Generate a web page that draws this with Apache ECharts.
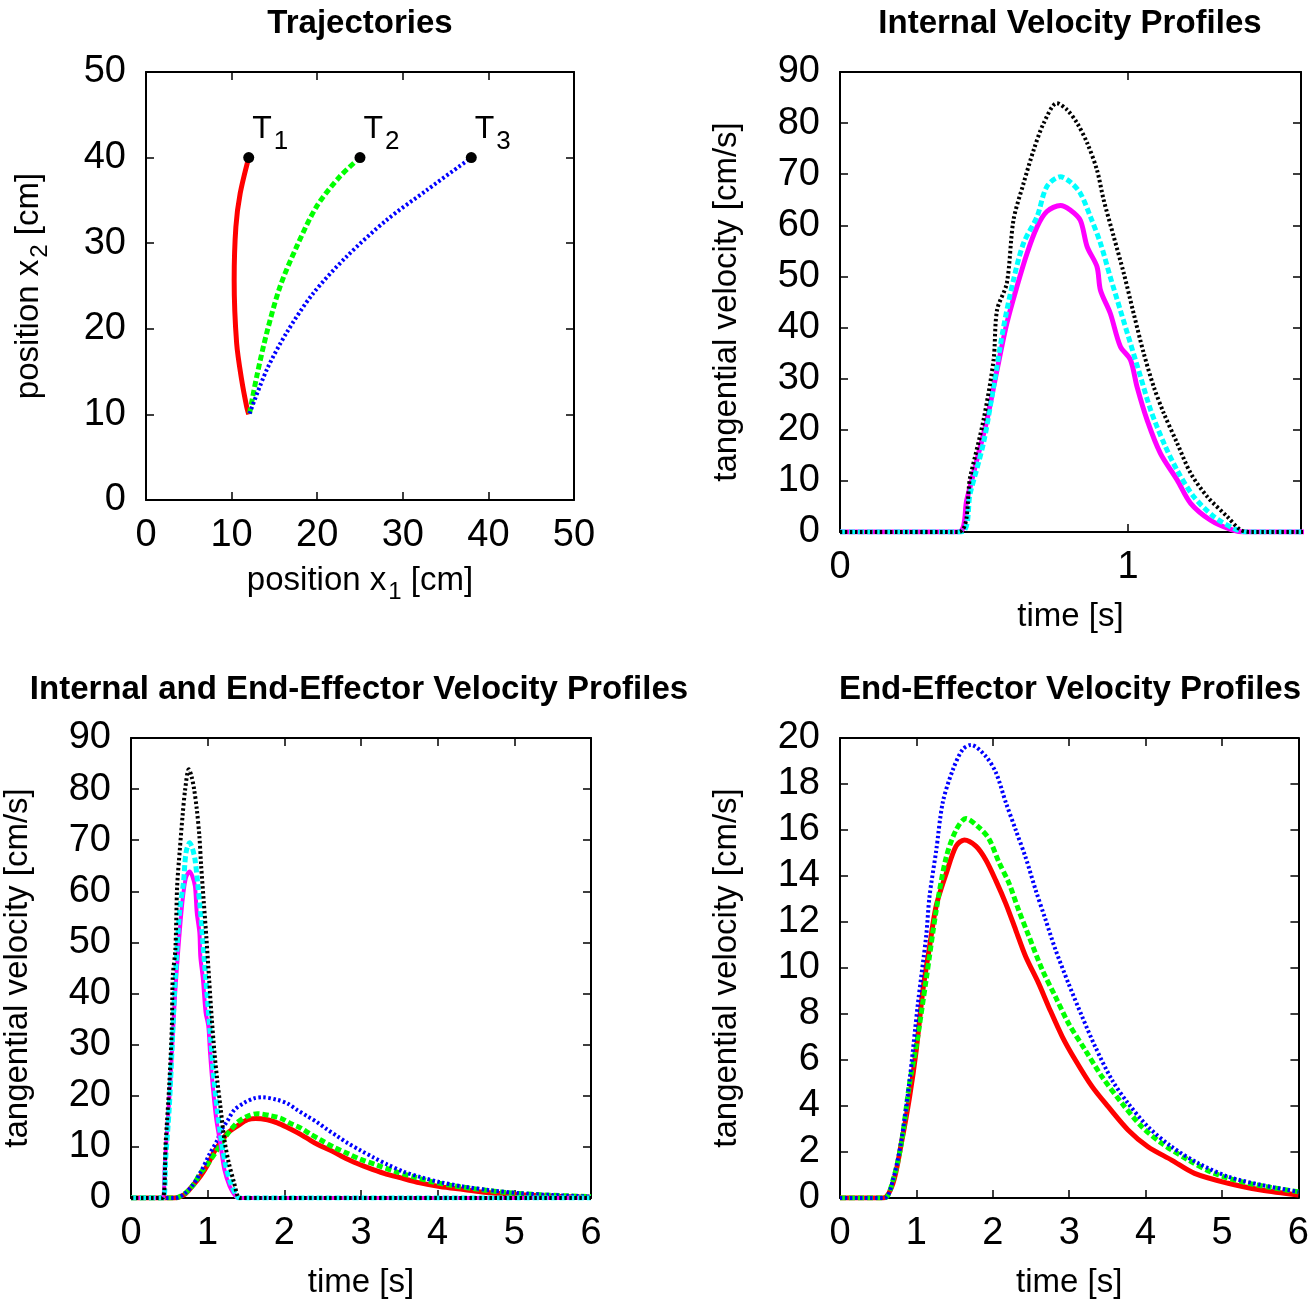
<!DOCTYPE html>
<html>
<head>
<meta charset="utf-8">
<title>Trajectories and velocity profiles</title>
<script src="https://cdn.jsdelivr.net/npm/echarts@6/dist/echarts.min.js"></script>
<style>
	html, body { margin: 0; padding: 0; background: #fff; }
	#main { width: 1312px; height: 1301px; }
</style>
</head>
<body>
<div id="main"></div>
<script>
// 轨迹 (x1, x2) [cm]
var traj1 = [[12.0, 10.0], [11.76, 10.9], [11.18, 14.0], [10.59, 18.3], [10.3, 25.7], [10.5, 31.9], [11.0, 35.8], [12.0, 40.0]];
var traj2 = [[12.1, 10.1], [12.93, 14.4], [14.1, 19.5], [15.65, 24.9], [17.6, 29.6], [19.94, 34.3], [22.66, 37.8], [25.0, 40.0]];
var traj3 = [[12.1, 10.1], [14.1, 15.2], [16.4, 19.5], [19.5, 24.1], [23.4, 28.4], [28.1, 32.7], [32.8, 36.2], [38.0, 40.0]];
var targetX = [12, 25, 38];
var targetY = [40, 40, 40];
var targetNames = ['1', '2', '3'];

// 内部速度 (time [s], velocity [cm/s])
var internal1 = [[0, 0], [0.411, 0], [0.44, 6.3], [0.475, 14.1], [0.51, 21.9], [0.545, 31.7], [0.579, 40.8], [0.614, 48.0], [0.649, 54.5], [0.684, 59.7], [0.718, 62.7], [0.765, 63.9], [0.799, 63.0], [0.834, 61.0], [0.858, 55.8], [0.892, 51.9], [0.904, 47.3], [0.938, 42.8], [0.973, 36.3], [1.008, 33.7], [1.031, 28.4], [1.066, 21.9], [1.112, 15.4], [1.17, 10.2], [1.217, 5.6], [1.286, 2.3], [1.356, 0.5], [1.40, 0], [6, 0]];
var internal2 = [[0, 0], [0.42, 0], [0.452, 7.6], [0.498, 17.4], [0.533, 28.4], [0.568, 40.2], [0.602, 49.3], [0.637, 56.5], [0.684, 61.7], [0.718, 67.6], [0.765, 69.5], [0.799, 68.5], [0.834, 66.3], [0.869, 61.7], [0.904, 56.5], [0.938, 49.9], [0.973, 43.4], [1.008, 36.9], [1.043, 30.4], [1.078, 23.9], [1.124, 17.4], [1.17, 12.1], [1.228, 6.9], [1.298, 3.0], [1.367, 0.7], [1.41, 0], [6, 0]];
var internal3 = [[0, 0], [0.411, 0], [0.452, 10.8], [0.498, 21.9], [0.533, 33.7], [0.545, 43.4], [0.579, 48.7], [0.602, 61.0], [0.637, 68.2], [0.672, 74.7], [0.707, 80.0], [0.753, 83.9], [0.788, 82.6], [0.823, 80.0], [0.858, 76.1], [0.892, 70.8], [0.915, 65.0], [0.95, 57.8], [0.985, 50.6], [1.019, 42.8], [1.054, 35.0], [1.089, 28.4], [1.124, 23.2], [1.17, 17.4], [1.217, 11.5], [1.275, 6.9], [1.344, 3.0], [1.39, 0.4], [1.42, 0], [6, 0]];

// 末端速度
var endEffector1 = [[0, 0], [0.564, 0], [0.694, 0.64], [0.803, 2.38], [0.911, 4.4], [0.998, 6.43], [1.085, 9.04], [1.171, 10.9], [1.259, 12.7], [1.389, 14.1], [1.519, 15.3], [1.627, 15.57], [1.779, 15.3], [1.909, 14.7], [2.04, 13.8], [2.17, 12.8], [2.30, 11.65], [2.43, 10.5], [2.60, 9.33], [2.73, 8.32], [2.91, 7.01], [3.08, 6.0], [3.30, 4.84], [3.51, 3.97], [3.77, 2.96], [4.03, 2.23], [4.34, 1.65], [4.64, 1.07], [5.08, 0.64], [5.51, 0.35], [6, 0.13]];
var endEffector2 = [[0, 0], [0.58, 0], [0.694, 0.78], [0.803, 2.38], [0.911, 5.0], [0.998, 6.6], [1.128, 9.5], [1.259, 12.5], [1.389, 14.8], [1.519, 16.0], [1.649, 16.5], [1.822, 16.1], [1.952, 15.6], [2.08, 14.6], [2.21, 13.7], [2.34, 12.5], [2.47, 11.4], [2.65, 9.9], [2.82, 8.75], [2.99, 7.6], [3.21, 6.43], [3.43, 5.27], [3.69, 4.12], [3.95, 3.1], [4.21, 2.38], [4.56, 1.65], [4.90, 1.07], [5.34, 0.64], [6, 0.27]];
var endEffector3 = [[0, 0], [0.58, 0], [0.694, 0.8], [0.803, 2.5], [0.911, 5.13], [1.02, 8.46], [1.128, 11.4], [1.171, 13.1], [1.259, 15.1], [1.345, 17.2], [1.475, 18.6], [1.605, 19.5], [1.714, 19.7], [1.909, 19.2], [2.04, 18.5], [2.17, 17.2], [2.30, 16.0], [2.43, 14.8], [2.56, 13.4], [2.69, 12.1], [2.82, 10.8], [2.99, 9.33], [3.17, 7.88], [3.34, 6.58], [3.56, 5.13], [3.77, 4.12], [4.03, 3.1], [4.34, 2.23], [4.69, 1.51], [5.08, 0.93], [5.51, 0.57], [6, 0.27]];

var FONT = 'Liberation Sans';
var subRich = { s: { fontSize: 24, fontFamily: FONT, color: '#000', padding: [22, 0, 0, 2] } };

// 各图的坐标区域
var grids = [
	{ left: 146, top: 72, width: 428, height: 428 },
	{ left: 840, top: 72, width: 461, height: 460 },
	{ left: 130, top: 738, width: 461, height: 460 },
	{ left: 840, top: 738, width: 461, height: 460 }
];

var axisLineStyle = { show: true, onZero: false, lineStyle: { color: '#000', width: 2 } };
var axisTickStyle = { show: true, inside: true, length: 8, lineStyle: { color: '#000', width: 1.5 } };

/**
 * 一对x轴(下方带标签, 上方镜像)
 */
function xAxes(grid, min, max, interval, name, gap, hideMax) {
	return [{
		gridIndex: grid, type: 'value', position: 'bottom', min: min, max: max, interval: interval,
		name: name, nameLocation: 'middle', nameGap: gap,
		nameTextStyle: { fontSize: 33, fontFamily: FONT, color: '#000', rich: subRich },
		axisLine: axisLineStyle, axisTick: axisTickStyle, splitLine: { show: false },
		axisLabel: { fontSize: 38, fontFamily: FONT, color: '#000', margin: 17, showMaxLabel: !hideMax }
	}, {
		gridIndex: grid, type: 'value', position: 'top', min: min, max: max, interval: interval,
		axisLine: axisLineStyle, axisTick: axisTickStyle, splitLine: { show: false }, axisLabel: { show: false }
	}];
}

function yAxes(grid, min, max, interval, name, gap) {
	return [{
		gridIndex: grid, type: 'value', position: 'left', min: min, max: max, interval: interval,
		name: name, nameLocation: 'middle', nameGap: gap,
		nameTextStyle: { fontSize: 33, fontFamily: FONT, color: '#000', rich: subRich },
		axisLine: axisLineStyle, axisTick: axisTickStyle, splitLine: { show: false },
		axisLabel: { fontSize: 38, fontFamily: FONT, color: '#000', margin: 20 }
	}, {
		gridIndex: grid, type: 'value', position: 'right', min: min, max: max, interval: interval,
		axisLine: axisLineStyle, axisTick: axisTickStyle, splitLine: { show: false }, axisLabel: { show: false }
	}];
}

function lineSeries(grid, data, color, width, dash, z) {
	return {
		type: 'line', xAxisIndex: grid * 2, yAxisIndex: grid * 2, data: data,
		smooth: 0.3, symbol: 'none', silent: true, z: z,
		lineStyle: { color: color, width: width, type: dash, cap: 'butt' }
	};
}

var SOLID = 'solid', DASHED = [6, 3], DOTTED = [2.5, 2.5];

var targets = targetX.map(function (x, i) { return [x, targetY[i], targetNames[i]]; });

var titleStyle = { fontSize: 33, fontWeight: 'bold', fontFamily: FONT, color: '#000' };

var option = {
	backgroundColor: '#fff',
	animation: false,
	title: [
		{ text: 'Trajectories', left: 360, top: 7, textAlign: 'center', padding: 0, textStyle: titleStyle },
		{ text: 'Internal Velocity Profiles', left: 1070, top: 7, textAlign: 'center', padding: 0, textStyle: titleStyle },
		{ text: 'Internal and End-Effector Velocity Profiles', left: 359, top: 673, textAlign: 'center', padding: 0, textStyle: titleStyle },
		{ text: 'End-Effector Velocity Profiles', left: 1070, top: 673, textAlign: 'center', padding: 0, textStyle: titleStyle }
	],
	grid: grids,
	xAxis: [].concat(
		xAxes(0, 0, 50, 10, 'position x{s|1} [cm]', 58),
		xAxes(1, 0, 1.6, 1, 'time [s]', 68, true),
		xAxes(2, 0, 6, 1, 'time [s]', 68),
		xAxes(3, 0, 6, 1, 'time [s]', 68)
	),
	yAxis: [].concat(
		yAxes(0, 0, 50, 10, 'position x{s|2} [cm]', 94),
		yAxes(1, 0, 90, 10, 'tangential velocity [cm/s]', 97),
		yAxes(2, 0, 90, 10, 'tangential velocity [cm/s]', 97),
		yAxes(3, 0, 20, 2, 'tangential velocity [cm/s]', 97)
	),
	series: [
		// 轨迹
		lineSeries(0, traj1, '#ff0000', 5, SOLID, 2),
		lineSeries(0, traj2, '#00ff00', 5, DASHED, 3),
		lineSeries(0, traj3, '#0000ff', 4, DOTTED, 4),
		{
			type: 'scatter', xAxisIndex: 0, yAxisIndex: 0, data: targets, z: 5, silent: true,
			symbol: 'circle', symbolSize: 11, itemStyle: { color: '#000', opacity: 1 },
			label: {
				show: true, position: [9, -49], opacity: 1,
				formatter: function (p) { return '{t|T}{n|' + p.value[2] + '}'; },
				rich: {
					t: { fontSize: 32, fontFamily: FONT, color: '#000', lineHeight: 32 },
					n: { fontSize: 26, fontFamily: FONT, color: '#000', padding: [26, 0, 0, 2] }
				}
			}
		},
		// 内部速度
		lineSeries(1, internal1, '#ff00ff', 5, SOLID, 2),
		lineSeries(1, internal2, '#00ffff', 5, DASHED, 3),
		lineSeries(1, internal3, '#000000', 4, DOTTED, 4),
		// 内部 + 末端
		lineSeries(2, endEffector1, '#ff0000', 5, SOLID, 2),
		lineSeries(2, endEffector2, '#00ff00', 5, DASHED, 3),
		lineSeries(2, endEffector3, '#0000ff', 4, DOTTED, 4),
		lineSeries(2, internal1, '#ff00ff', 4, SOLID, 5),
		lineSeries(2, internal2, '#00ffff', 5, DASHED, 6),
		lineSeries(2, internal3, '#000000', 4, DOTTED, 7),
		// 末端速度
		lineSeries(3, endEffector1, '#ff0000', 5, SOLID, 2),
		lineSeries(3, endEffector2, '#00ff00', 5, DASHED, 3),
		lineSeries(3, endEffector3, '#0000ff', 4, DOTTED, 4)
	]
};

var chart = echarts.init(document.getElementById('main'), null, { renderer: 'canvas' });
chart.setOption(option);
</script>
</body>
</html>
